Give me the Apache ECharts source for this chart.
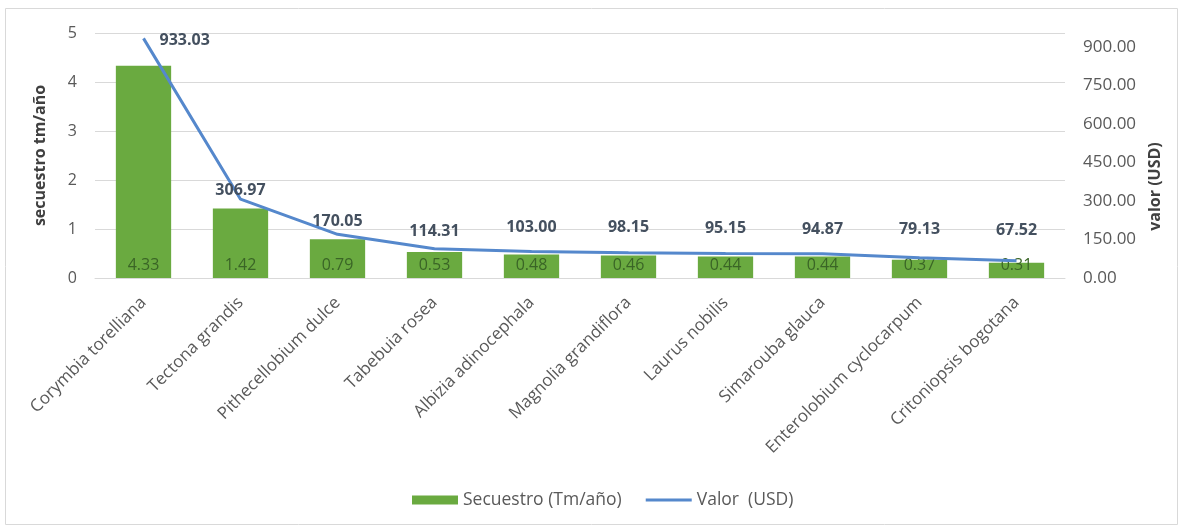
<!DOCTYPE html>
<html>
<head>
<meta charset="utf-8">
<script src="https://cdn.jsdelivr.net/npm/echarts@6/dist/echarts.min.js"></script>
<style>
  html, body { margin: 0; padding: 0; background: #fff; }
  #chart { width: 1183px; height: 527px; }
</style>
</head>
<body>
<div id="chart"></div>
<script>
// Species (x axis)
const species = [
  'Corymbia torelliana', 'Tectona grandis', 'Pithecellobium dulce', 'Tabebuia rosea',
  'Albizia adinocephala', 'Magnolia grandiflora', 'Laurus nobilis', 'Simarouba glauca',
  'Enterolobium cyclocarpum', 'Critoniopsis bogotana'
];
// Carbon sequestration, Tm/año (left axis)
const secuestro = [4.33, 1.42, 0.79, 0.53, 0.48, 0.46, 0.44, 0.44, 0.37, 0.31];
// Value in USD (right axis)
const valor = [933.03, 306.97, 170.05, 114.31, 103.00, 98.15, 95.15, 94.87, 79.13, 67.52];

const FONT = '"Open Sans", "Noto Sans", sans-serif';
const GREY = '#595959';
const LINE_BLUE = '#5588cc';

// Gap (px) between each value label and its point on the line
const labelGap = [0, 1, 5, 9, 16, 17, 17, 16, 20, 22];

const chart = echarts.init(document.getElementById('chart'), null, { renderer: 'canvas' });

const lineData = valor.map((v, i) => {
  if (i === 0) {
    return { value: v, label: { position: 'right', distance: 16, offset: [0, 2] } };
  }
  return { value: v, label: { distance: labelGap[i] } };
});

chart.setOption({
  animation: false,
  textStyle: { fontFamily: FONT },
  graphic: [{
    type: 'rect',
    shape: { x: 5.5, y: 8.5, width: 1172, height: 516 },
    style: { fill: 'none', stroke: '#d9d9d9', lineWidth: 1 },
    silent: true
  }],
  grid: { left: 95, right: 118, top: 33, bottom: 249 },
  legend: {
    bottom: 13,
    left: 407,
    itemGap: 24,
    itemWidth: 46,
    itemHeight: 9,
    symbolKeepAspect: true,
    textStyle: { color: GREY, fontSize: 17.5, fontFamily: FONT },
    data: [
      { name: 'Secuestro (Tm/año)', icon: 'rect' },
      { name: 'Valor  (USD)', icon: 'path://M0,0H46V3H0Z', itemStyle: { color: LINE_BLUE } }
    ]
  },
  xAxis: {
    type: 'category',
    data: species,
    axisTick: { show: false },
    axisLine: { lineStyle: { color: '#d9d9d9' } },
    axisLabel: {
      rotate: 45,
      color: GREY,
      fontSize: 17,
      fontFamily: FONT,
      margin: 22,
      interval: 0
    }
  },
  yAxis: [{
    type: 'value',
    min: 0,
    max: 5,
    interval: 1,
    name: 'secuestro tm/año',
    nameLocation: 'middle',
    nameGap: 47,
    nameRotate: 90,
    nameTextStyle: { color: '#404040', fontSize: 16, fontWeight: 'bold', fontFamily: FONT },
    axisLine: { show: false },
    axisTick: { show: false },
    axisLabel: { color: GREY, fontSize: 16, fontFamily: FONT, margin: 18 },
    splitLine: { lineStyle: { color: '#d9d9d9' } }
  }, {
    type: 'value',
    min: 0,
    max: 954,
    interval: 150,
    name: 'valor (USD)',
    nameLocation: 'middle',
    nameGap: 79,
    nameRotate: 90,
    nameTextStyle: { color: '#404040', fontSize: 16, fontWeight: 'bold', fontFamily: FONT, padding: [0, 62, 0, 0] },
    axisLine: { show: false },
    axisTick: { show: false },
    axisLabel: {
      color: GREY, fontSize: 17, fontFamily: FONT, margin: 18, showMaxLabel: false,
      formatter: v => v.toFixed(2)
    },
    splitLine: { show: false }
  }],
  series: [{
    name: 'Secuestro (Tm/año)',
    type: 'bar',
    yAxisIndex: 0,
    data: secuestro,
    barWidth: '57%',
    itemStyle: { color: '#6aaa40' },
    label: {
      show: true,
      position: 'insideBottom',
      distance: 5,
      color: '#3a6526',
      fontSize: 16,
      fontFamily: FONT,
      formatter: p => p.value.toFixed(2)
    },
    z: 2
  }, {
    name: 'Valor  (USD)',
    type: 'line',
    yAxisIndex: 1,
    data: lineData,
    symbol: 'circle',
    symbolSize: 0,
    showSymbol: true,
    lineStyle: { color: LINE_BLUE, width: 3 },
    itemStyle: { color: LINE_BLUE },
    label: {
      show: true,
      position: 'top',
      color: '#44505f',
      fontSize: 16,
      fontWeight: 'bold',
      fontFamily: FONT,
      formatter: p => p.value.toFixed(2)
    },
    z: 3
  }]
});
</script>
</body>
</html>
